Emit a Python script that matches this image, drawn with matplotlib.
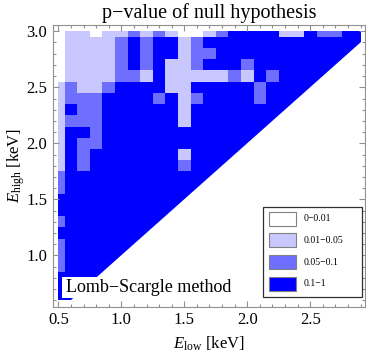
import numpy as np
import matplotlib
matplotlib.use("Agg")
import matplotlib.pyplot as plt
from matplotlib.colors import ListedColormap, BoundaryNorm
from matplotlib.patches import Polygon, Rectangle
from matplotlib.ticker import MultipleLocator

# ---------------- data ----------------
e_low = [0.5, 0.6, 0.7, 0.8, 0.9, 1.0, 1.1, 1.2, 1.3, 1.4, 1.5, 1.6, 1.7,
         1.8, 1.9, 2.0, 2.1, 2.2, 2.3, 2.4, 2.5, 2.6, 2.7, 2.8, 2.9]
# rows from top (E_high = 3.0) to bottom (E_high = 0.6)
e_high = [3.0, 2.9, 2.8, 2.7, 2.6, 2.5, 2.4, 2.3, 2.2, 2.1, 2.0, 1.9, 1.8,
          1.7, 1.6, 1.5, 1.4, 1.3, 1.2, 1.1, 1.0, 0.9, 0.8, 0.7, 0.6]
# p-value class per cell: 0 = 0-0.01, 1 = 0.01-0.05, 2 = 0.05-0.1, 3 = 0.1-1
p_class = [
    "0110112121001233331132233",  # 3.0
    "0111123233123333333333333",  # 2.9
    "0111123233122333333333333",  # 2.8
    "0111123231123332333333333",  # 2.7
    "0111122131111121323333333",  # 2.6
    "1211233331133333233333333",  # 2.5
    "1222333323123333233333333",  # 2.4
    "1322333333133333333333333",  # 2.3
    "1222333333133333333333333",  # 2.2
    "1332333333333333333333333",  # 2.1
    "1322333333333333333333333",  # 2.0
    "1323333333133333333333333",  # 1.9
    "1323333333233333333333333",  # 1.8
    "2333333333333333333333333",  # 1.7
    "2333333333333333333333333",  # 1.6
    "3333333333333333333333333",  # 1.5
    "3333333333333333333333333",  # 1.4
    "2333333333333333333333333",  # 1.3
    "3333333333333333333333333",  # 1.2
    "2333333333333333333333333",  # 1.1
    "2333333333333333333333333",  # 1.0
    "2333333333333333333333333",  # 0.9
    "3333333333333333333333333",  # 0.8
    "3333333333333333333333333",  # 0.7
    "3333333333333333333333333",  # 0.6
]
class_labels = ["0\u22120.01", "0.01\u22120.05", "0.05\u22120.1", "0.1\u22121"]
class_colors = ["#FFFFFF", "#C8C8FF", "#6E6EFF", "#0000FF"]

title = "p\u2212value of null hypothesis"
method_label = "Lomb\u2212Scargle method"

# ---------------- style ----------------
plt.rcParams["font.family"] = ["Liberation Serif", "DejaVu Serif"]
plt.rcParams["mathtext.fontset"] = "custom"
plt.rcParams["mathtext.rm"] = "Liberation Serif"
plt.rcParams["mathtext.it"] = "Liberation Serif:italic"

frame_col = "#909090"

fig = plt.figure(figsize=(3.66, 3.53), dpi=100)
W, H = 366.0, 353.0
ax_l, ax_r, ax_t, ax_b = 52.7, 365.0, 25.3, 306.5
ax = fig.add_axes([ax_l / W, 1 - ax_b / H, (ax_r - ax_l) / W, (ax_b - ax_t) / H])
ax.set_xlim(0.455, 2.935)
ax.set_ylim(0.545, 3.053)

# ---------------- cells ----------------
xl = np.array(e_low)
yh = np.array(e_high)[::-1]
Z = np.array([[int(c) for c in row] for row in p_class])[::-1]


def edges(v):
    d = np.diff(v)
    return np.concatenate([[v[0] - d[0] / 2], (v[:-1] + v[1:]) / 2, [v[-1] + d[-1] / 2]])


cmap = ListedColormap(class_colors)
norm = BoundaryNorm([-0.5, 0.5, 1.5, 2.5, 3.5], cmap.N)
mesh = ax.pcolormesh(edges(xl), edges(yh), Z, cmap=cmap, norm=norm,
                     shading="flat", edgecolors="none", antialiased=False, zorder=1)

lo_x, hi_x = xl.min(), xl.max()
lo_y, hi_y = yh.min(), yh.max()
hull = Polygon([(lo_x, lo_y), (lo_y, lo_y), (hi_x, hi_x), (hi_x, hi_y), (lo_x, hi_y)],
               closed=True, facecolor="none", edgecolor="none", transform=ax.transData)
ax.add_patch(hull)
mesh.set_clip_path(hull)

# ---------------- method label box ----------------
def ax_frac_x(px):
    return (px - ax_l) / (ax_r - ax_l)


def ax_frac_y(py):
    return (ax_b - py) / (ax_b - ax_t)


ax.add_patch(Rectangle((ax_frac_x(62.3), ax_frac_y(298.0)),
                       ax_frac_x(238) - ax_frac_x(62.3),
                       ax_frac_y(276.7) - ax_frac_y(298.0),
                       transform=ax.transAxes, facecolor="white", edgecolor="none", zorder=3))
ax.text(ax_frac_x(65.5), ax_frac_y(287.5), method_label, transform=ax.transAxes,
        fontsize=13, ha="left", va="center", zorder=4)

# ---------------- legend (manual) ----------------
lx0, lx1, ly0, ly1 = 263.3, 361.7, 207.3, 297.3
ax.add_patch(Rectangle((ax_frac_x(lx0), ax_frac_y(ly1)),
                       ax_frac_x(lx1) - ax_frac_x(lx0), ax_frac_y(ly0) - ax_frac_y(ly1),
                       transform=ax.transAxes, facecolor="white", edgecolor="#303030",
                       linewidth=0.9, zorder=5))
for k, (lab, col) in enumerate(zip(class_labels, class_colors)):
    top = 211.7 + k * 21.7
    ax.add_patch(Rectangle((ax_frac_x(269.3), ax_frac_y(top + 14)),
                           ax_frac_x(296) - ax_frac_x(269.3),
                           ax_frac_y(top) - ax_frac_y(top + 14),
                           transform=ax.transAxes, facecolor=col, edgecolor="#808080",
                           linewidth=0.8, zorder=6))
    ax.text(ax_frac_x(303.3), ax_frac_y(top + 7), lab, transform=ax.transAxes,
            fontsize=7, ha="left", va="center", zorder=6)

# ---------------- axes decoration ----------------
ax.xaxis.set_major_locator(MultipleLocator(0.5))
ax.xaxis.set_minor_locator(MultipleLocator(0.1))
ax.yaxis.set_major_locator(MultipleLocator(0.5))
ax.yaxis.set_minor_locator(MultipleLocator(0.1))
ax.xaxis.set_major_formatter(matplotlib.ticker.FormatStrFormatter("%.1f"))
ax.yaxis.set_major_formatter(matplotlib.ticker.FormatStrFormatter("%.1f"))
ax.tick_params(which="both", direction="in", top=True, right=True, color=frame_col,
               labelsize=12, width=0.8)
ax.tick_params(which="major", length=4.5)
ax.tick_params(which="minor", length=2.5)
ax.tick_params(axis="x", which="major", pad=4)
ax.tick_params(axis="y", which="major", pad=4)
for s in ax.spines.values():
    s.set_color(frame_col)
    s.set_linewidth(0.8)
    s.set_zorder(7)

ax.set_xlabel(r"$E_{\rm low}$ [keV]", fontsize=12)
ax.set_ylabel(r"$E_{\rm high}$ [keV]", fontsize=12)
ax.xaxis.set_label_coords(0.5, ax_frac_y(335))
ax.yaxis.set_label_coords(ax_frac_x(27.5), 0.5)
ax.set_title(title, fontsize=14.5, pad=5.5)

fig.savefig("out.png", dpi=100)
